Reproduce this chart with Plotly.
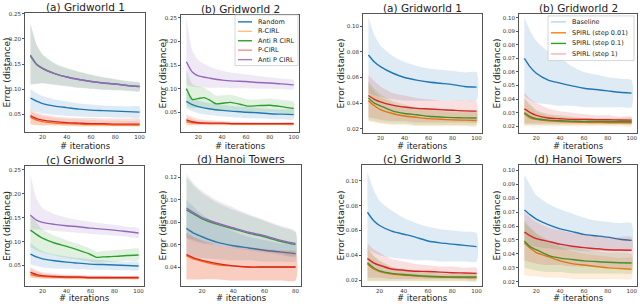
import plotly.graph_objects as go

# ---------------- categories / ticks ----------------
LEFT_SERIES = ["Random", "R-CIRL", "Anti R CIRL", "P-CIRL", "Anti P CIRL"]
RIGHT_SERIES = ["Baseline", "SPIRL (step 0.01)", "SPIRL (step 0.1)", "SPIRL (step 1)"]
TITLES = ["(a) Gridworld 1", "(b) Gridworld 2", "(c) Gridworld 3", "(d) Hanoi Towers"]
X_TICKS_100 = [20, 40, 60, 80, 100]
X_TICKS_80 = [20, 40, 60, 80]
Y_TICKS_GW = [0.05, 0.10, 0.15, 0.20, 0.25]
Y_TICKS_HANOI_L = [0.04, 0.06, 0.08, 0.10, 0.12]
Y_TICKS_R_2 = [0.02, 0.04, 0.06, 0.08, 0.10]
Y_TICKS_R_1 = [0.02, 0.03, 0.04, 0.05, 0.06, 0.07, 0.08, 0.09, 0.10]

# ---------------- iterations ----------------
ITERS = [10, 15, 20, 30, 40, 50, 60, 70, 80, 90, 100]
ITERS_H = [10, 15, 20, 30, 40, 50, 60, 70, 80]
ITERS_B_ANTIR = [10, 15, 20, 25, 30, 35, 40, 47, 55, 62, 70, 80, 90, 100]
ITERS_C_ANTIR = [10, 15, 20, 30, 40, 50, 60, 65, 70, 80, 90, 100]

# ---------------- left group: (a) Gridworld 1 ----------------
LA_RANDOM = [0.082, 0.076, 0.071, 0.066, 0.063, 0.060, 0.058, 0.057, 0.056, 0.055, 0.054]
LA_RANDOM_LO = [0.058, 0.054, 0.051, 0.048, 0.046, 0.045, 0.044, 0.044, 0.043, 0.043, 0.043]
LA_RANDOM_HI = [0.100, 0.092, 0.086, 0.079, 0.075, 0.071, 0.069, 0.067, 0.066, 0.065, 0.065]
LA_RCIRL = [0.044, 0.038, 0.035, 0.032, 0.031, 0.030, 0.029, 0.029, 0.028, 0.028, 0.028]
LA_RCIRL_LO = [0.030, 0.028, 0.027, 0.026, 0.026, 0.025, 0.025, 0.025, 0.025, 0.025, 0.025]
LA_RCIRL_HI = [0.056, 0.050, 0.046, 0.042, 0.040, 0.039, 0.038, 0.037, 0.037, 0.036, 0.036]
LA_ANTIR = [0.166, 0.149, 0.141, 0.131, 0.124, 0.119, 0.115, 0.112, 0.110, 0.107, 0.105]
LA_ANTIR_LO = [0.108, 0.110, 0.111, 0.108, 0.105, 0.102, 0.100, 0.098, 0.097, 0.096, 0.095]
LA_ANTIR_HI = [0.232, 0.190, 0.170, 0.152, 0.142, 0.135, 0.129, 0.124, 0.120, 0.116, 0.113]
LA_PCIRL = [0.047, 0.041, 0.038, 0.035, 0.033, 0.032, 0.031, 0.031, 0.030, 0.030, 0.030]
LA_PCIRL_LO = [0.030, 0.029, 0.028, 0.028, 0.027, 0.027, 0.027, 0.027, 0.027, 0.027, 0.027]
LA_PCIRL_HI = [0.059, 0.053, 0.049, 0.045, 0.043, 0.042, 0.042, 0.041, 0.041, 0.041, 0.041]
LA_ANTIP = [0.168, 0.150, 0.142, 0.131, 0.124, 0.119, 0.115, 0.112, 0.110, 0.107, 0.105]
LA_ANTIP_LO = [0.110, 0.111, 0.112, 0.109, 0.106, 0.103, 0.101, 0.099, 0.098, 0.097, 0.096]
LA_ANTIP_HI = [0.230, 0.188, 0.168, 0.150, 0.141, 0.134, 0.128, 0.123, 0.119, 0.115, 0.112]

# ---------------- left group: (b) Gridworld 2 ----------------
LB_RANDOM = [0.073, 0.066, 0.062, 0.057, 0.054, 0.052, 0.050, 0.049, 0.047, 0.046, 0.045]
LB_RANDOM_LO = [0.058, 0.052, 0.048, 0.044, 0.041, 0.039, 0.038, 0.037, 0.036, 0.035, 0.035]
LB_RANDOM_HI = [0.090, 0.080, 0.075, 0.069, 0.066, 0.063, 0.061, 0.059, 0.057, 0.056, 0.055]
LB_RCIRL = [0.030, 0.028, 0.027, 0.026, 0.026, 0.025, 0.025, 0.025, 0.025, 0.025, 0.025]
LB_RCIRL_LO = [0.022, 0.022, 0.022, 0.022, 0.022, 0.022, 0.022, 0.022, 0.022, 0.022, 0.022]
LB_RCIRL_HI = [0.040, 0.036, 0.033, 0.031, 0.030, 0.029, 0.029, 0.028, 0.028, 0.028, 0.028]
LB_ANTIR = [0.100, 0.077, 0.079, 0.081, 0.075, 0.068, 0.069, 0.071, 0.067, 0.063, 0.064, 0.065, 0.062, 0.058]
LB_ANTIR_LO = [0.062, 0.058, 0.060, 0.060, 0.057, 0.054, 0.054, 0.055, 0.053, 0.050, 0.050, 0.050, 0.048, 0.045]
LB_ANTIR_HI = [0.140, 0.110, 0.105, 0.102, 0.094, 0.085, 0.086, 0.087, 0.082, 0.077, 0.077, 0.079, 0.076, 0.072]
LB_PCIRL = [0.034, 0.030, 0.028, 0.027, 0.027, 0.026, 0.026, 0.026, 0.026, 0.026, 0.026]
LB_PCIRL_LO = [0.024, 0.023, 0.023, 0.023, 0.023, 0.023, 0.023, 0.023, 0.023, 0.023, 0.023]
LB_PCIRL_HI = [0.046, 0.040, 0.036, 0.033, 0.031, 0.030, 0.030, 0.029, 0.029, 0.029, 0.029]
LB_ANTIP = [0.157, 0.135, 0.127, 0.122, 0.118, 0.116, 0.115, 0.113, 0.112, 0.110, 0.108]
LB_ANTIP_LO = [0.108, 0.104, 0.103, 0.102, 0.102, 0.101, 0.101, 0.100, 0.100, 0.099, 0.099]
LB_ANTIP_HI = [0.250, 0.180, 0.160, 0.146, 0.138, 0.133, 0.130, 0.127, 0.124, 0.121, 0.118]

# ---------------- left group: (c) Gridworld 3 ----------------
LC_RANDOM = [0.074, 0.068, 0.064, 0.060, 0.057, 0.055, 0.053, 0.052, 0.051, 0.050, 0.049]
LC_RANDOM_LO = [0.052, 0.049, 0.046, 0.044, 0.043, 0.042, 0.041, 0.041, 0.040, 0.040, 0.040]
LC_RANDOM_HI = [0.098, 0.087, 0.080, 0.073, 0.069, 0.066, 0.063, 0.061, 0.059, 0.058, 0.057]
LC_RCIRL = [0.031, 0.028, 0.027, 0.026, 0.025, 0.025, 0.024, 0.024, 0.024, 0.024, 0.024]
LC_RCIRL_LO = [0.024, 0.023, 0.022, 0.022, 0.021, 0.021, 0.021, 0.021, 0.021, 0.021, 0.021]
LC_RCIRL_HI = [0.045, 0.038, 0.034, 0.031, 0.030, 0.029, 0.028, 0.028, 0.027, 0.027, 0.027]
LC_ANTIR = [0.124, 0.115, 0.107, 0.097, 0.090, 0.082, 0.073, 0.067, 0.068, 0.069, 0.071, 0.072]
LC_ANTIR_LO = [0.088, 0.082, 0.077, 0.071, 0.066, 0.062, 0.058, 0.056, 0.057, 0.058, 0.060, 0.061]
LC_ANTIR_HI = [0.158, 0.140, 0.125, 0.112, 0.103, 0.095, 0.085, 0.079, 0.080, 0.082, 0.084, 0.085]
LC_PCIRL = [0.036, 0.031, 0.029, 0.027, 0.026, 0.026, 0.025, 0.025, 0.025, 0.025, 0.025]
LC_PCIRL_LO = [0.025, 0.024, 0.023, 0.022, 0.022, 0.022, 0.022, 0.022, 0.022, 0.022, 0.022]
LC_PCIRL_HI = [0.047, 0.040, 0.036, 0.033, 0.031, 0.030, 0.029, 0.029, 0.028, 0.028, 0.028]
LC_ANTIP = [0.155, 0.145, 0.140, 0.136, 0.133, 0.131, 0.128, 0.126, 0.124, 0.121, 0.118]
LC_ANTIP_LO = [0.125, 0.125, 0.124, 0.122, 0.120, 0.118, 0.116, 0.114, 0.112, 0.110, 0.108]
LC_ANTIP_HI = [0.240, 0.190, 0.170, 0.157, 0.150, 0.145, 0.141, 0.138, 0.135, 0.131, 0.128]

# ---------------- left group: (d) Hanoi Towers ----------------
LD_RANDOM = [0.0745, 0.070, 0.067, 0.062, 0.059, 0.057, 0.055, 0.0535, 0.052]
LD_RANDOM_LO = [0.050, 0.049, 0.048, 0.047, 0.046, 0.046, 0.045, 0.045, 0.045]
LD_RANDOM_HI = [0.100, 0.093, 0.087, 0.078, 0.072, 0.067, 0.064, 0.061, 0.059]
LD_RCIRL = [0.050, 0.047, 0.045, 0.042, 0.041, 0.040, 0.040, 0.040, 0.040]
LD_RCIRL_LO = [0.029, 0.029, 0.029, 0.029, 0.028, 0.028, 0.028, 0.028, 0.028]
LD_RCIRL_HI = [0.070, 0.066, 0.063, 0.059, 0.057, 0.056, 0.055, 0.054, 0.053]
LD_ANTIR = [0.091, 0.087, 0.083, 0.078, 0.074, 0.070, 0.067, 0.063, 0.060]
LD_ANTIR_LO = [0.066, 0.064, 0.062, 0.060, 0.058, 0.056, 0.054, 0.052, 0.050]
LD_ANTIR_HI = [0.120, 0.112, 0.106, 0.097, 0.091, 0.086, 0.081, 0.076, 0.071]
LD_PCIRL = [0.051, 0.048, 0.046, 0.043, 0.041, 0.040, 0.040, 0.040, 0.040]
LD_PCIRL_LO = [0.029, 0.029, 0.029, 0.029, 0.028, 0.028, 0.028, 0.028, 0.028]
LD_PCIRL_HI = [0.071, 0.067, 0.064, 0.060, 0.058, 0.057, 0.056, 0.055, 0.054]
LD_ANTIP = [0.0925, 0.088, 0.084, 0.079, 0.075, 0.071, 0.068, 0.064, 0.061]
LD_ANTIP_LO = [0.065, 0.063, 0.061, 0.059, 0.057, 0.055, 0.053, 0.051, 0.049]
LD_ANTIP_HI = [0.123, 0.114, 0.108, 0.099, 0.093, 0.087, 0.082, 0.077, 0.072]

# ---------------- right group: (a) Gridworld 1 ----------------
RA_BASE = [0.0775, 0.072, 0.0685, 0.0635, 0.060, 0.058, 0.0565, 0.0555, 0.0545, 0.053, 0.0525]
RA_BASE_LO = [0.048, 0.046, 0.045, 0.043, 0.042, 0.042, 0.042, 0.042, 0.042, 0.042, 0.042]
RA_BASE_HI = [0.107, 0.093, 0.085, 0.077, 0.072, 0.069, 0.067, 0.066, 0.065, 0.064, 0.064]
RA_S001 = [0.042, 0.038, 0.035, 0.032, 0.030, 0.029, 0.028, 0.0275, 0.027, 0.0268, 0.0265]
RA_S001_LO = [0.026, 0.025, 0.024, 0.023, 0.023, 0.022, 0.022, 0.022, 0.022, 0.022, 0.022]
RA_S001_HI = [0.055, 0.049, 0.045, 0.040, 0.037, 0.036, 0.035, 0.034, 0.033, 0.033, 0.033]
RA_S01 = [0.044, 0.040, 0.038, 0.034, 0.032, 0.031, 0.0298, 0.0292, 0.0288, 0.0286, 0.0285]
RA_S01_LO = [0.027, 0.026, 0.025, 0.024, 0.024, 0.023, 0.023, 0.023, 0.023, 0.023, 0.023]
RA_S01_HI = [0.057, 0.051, 0.047, 0.042, 0.039, 0.037, 0.036, 0.035, 0.035, 0.034, 0.034]
RA_S1 = [0.046, 0.043, 0.041, 0.0385, 0.037, 0.036, 0.0355, 0.035, 0.0345, 0.034, 0.0338]
RA_S1_LO = [0.029, 0.028, 0.027, 0.026, 0.026, 0.025, 0.025, 0.025, 0.025, 0.025, 0.025]
RA_S1_HI = [0.062, 0.057, 0.053, 0.048, 0.046, 0.044, 0.043, 0.042, 0.042, 0.042, 0.041]

# ---------------- right group: (b) Gridworld 2 ----------------
RB_BASE = [0.070, 0.0635, 0.059, 0.054, 0.0517, 0.0497, 0.048, 0.047, 0.046, 0.045, 0.0444]
RB_BASE_LO = [0.042, 0.039, 0.037, 0.036, 0.035, 0.035, 0.034, 0.034, 0.034, 0.034, 0.034]
RB_BASE_HI = [0.100, 0.090, 0.083, 0.075, 0.070, 0.064, 0.060, 0.058, 0.056, 0.055, 0.054]
RB_S001 = [0.029, 0.026, 0.025, 0.024, 0.0235, 0.023, 0.0228, 0.0227, 0.0226, 0.0225, 0.0225]
RB_S001_LO = [0.020, 0.020, 0.020, 0.020, 0.020, 0.020, 0.020, 0.020, 0.020, 0.020, 0.020]
RB_S001_HI = [0.040, 0.035, 0.031, 0.028, 0.027, 0.026, 0.026, 0.025, 0.025, 0.025, 0.025]
RB_S01 = [0.030, 0.027, 0.0255, 0.0245, 0.024, 0.0237, 0.0235, 0.0234, 0.0233, 0.0233, 0.0233]
RB_S01_LO = [0.021, 0.021, 0.021, 0.021, 0.021, 0.021, 0.021, 0.021, 0.021, 0.021, 0.021]
RB_S01_HI = [0.041, 0.036, 0.032, 0.029, 0.028, 0.027, 0.026, 0.026, 0.026, 0.026, 0.026]
RB_S1 = [0.0327, 0.030, 0.028, 0.026, 0.0255, 0.025, 0.025, 0.0248, 0.0247, 0.0246, 0.0245]
RB_S1_LO = [0.022, 0.022, 0.022, 0.022, 0.022, 0.022, 0.022, 0.022, 0.022, 0.022, 0.022]
RB_S1_HI = [0.045, 0.040, 0.037, 0.033, 0.031, 0.030, 0.029, 0.028, 0.028, 0.027, 0.027]

# ---------------- right group: (c) Gridworld 3 ----------------
RC_BASE = [0.0747, 0.068, 0.064, 0.0595, 0.057, 0.0545, 0.0515, 0.050, 0.049, 0.048, 0.047]
RC_BASE_LO = [0.045, 0.042, 0.040, 0.038, 0.037, 0.036, 0.036, 0.035, 0.035, 0.035, 0.035]
RC_BASE_HI = [0.107, 0.093, 0.084, 0.076, 0.070, 0.066, 0.063, 0.061, 0.060, 0.059, 0.058]
RC_S001 = [0.033, 0.029, 0.027, 0.025, 0.024, 0.0233, 0.0228, 0.0225, 0.0222, 0.022, 0.022]
RC_S001_LO = [0.019, 0.019, 0.019, 0.019, 0.019, 0.019, 0.019, 0.019, 0.019, 0.019, 0.019]
RC_S001_HI = [0.045, 0.039, 0.035, 0.030, 0.028, 0.027, 0.026, 0.025, 0.025, 0.025, 0.025]
RC_S01 = [0.034, 0.030, 0.0275, 0.0255, 0.0245, 0.0238, 0.0232, 0.0228, 0.0225, 0.0225, 0.0225]
RC_S01_LO = [0.0195, 0.0195, 0.0195, 0.0195, 0.0195, 0.0195, 0.0195, 0.0195, 0.0195, 0.0195, 0.0195]
RC_S01_HI = [0.046, 0.040, 0.036, 0.031, 0.029, 0.028, 0.027, 0.026, 0.026, 0.026, 0.026]
RC_S1 = [0.0373, 0.034, 0.032, 0.029, 0.028, 0.0272, 0.027, 0.0265, 0.026, 0.0258, 0.0255]
RC_S1_LO = [0.022, 0.022, 0.022, 0.021, 0.021, 0.021, 0.021, 0.021, 0.021, 0.021, 0.021]
RC_S1_HI = [0.050, 0.045, 0.042, 0.037, 0.035, 0.033, 0.032, 0.031, 0.031, 0.030, 0.030]

# ---------------- right group: (d) Hanoi Towers ----------------
RD_BASE = [0.0715, 0.068, 0.065, 0.061, 0.058, 0.056, 0.054, 0.053, 0.052, 0.0505, 0.0497]
RD_BASE_LO = [0.047, 0.046, 0.045, 0.044, 0.043, 0.043, 0.042, 0.042, 0.042, 0.042, 0.042]
RD_BASE_HI = [0.097, 0.089, 0.082, 0.076, 0.072, 0.069, 0.066, 0.064, 0.063, 0.062, 0.062]
RD_S001 = [0.048, 0.044, 0.041, 0.038, 0.035, 0.033, 0.032, 0.031, 0.030, 0.0295, 0.029]
RD_S001_LO = [0.025, 0.024, 0.024, 0.023, 0.023, 0.022, 0.022, 0.022, 0.022, 0.022, 0.022]
RD_S001_HI = [0.062, 0.058, 0.054, 0.048, 0.045, 0.042, 0.040, 0.039, 0.038, 0.037, 0.037]
RD_S01 = [0.049, 0.045, 0.043, 0.039, 0.037, 0.036, 0.035, 0.0345, 0.034, 0.0337, 0.0335]
RD_S01_LO = [0.030, 0.029, 0.028, 0.027, 0.027, 0.026, 0.026, 0.026, 0.026, 0.026, 0.026]
RD_S01_HI = [0.064, 0.059, 0.055, 0.050, 0.047, 0.045, 0.043, 0.042, 0.041, 0.041, 0.040]
RD_S1 = [0.0556, 0.053, 0.051, 0.049, 0.047, 0.0455, 0.0445, 0.0437, 0.043, 0.0428, 0.0426]
RD_S1_LO = [0.035, 0.034, 0.033, 0.032, 0.032, 0.031, 0.031, 0.031, 0.030, 0.030, 0.030]
RD_S1_HI = [0.070, 0.066, 0.063, 0.059, 0.057, 0.055, 0.054, 0.053, 0.052, 0.052, 0.052]

# ---------------- styling ----------------
BLUE, ORANGE, GREEN, RED, PURPLE = "#1f77b4", "#ff7f0e", "#2ca02c", "#d62728", "#9467bd"
LEFT_COLORS = [BLUE, ORANGE, GREEN, RED, PURPLE]
RIGHT_COLORS = [BLUE, ORANGE, GREEN, RED]
W, H = 640, 304
FONT = "DejaVu Sans"


def rgba(hexc, a):
    h = hexc.lstrip("#")
    return "rgba(%d,%d,%d,%.3f)" % (int(h[0:2], 16), int(h[2:4], 16), int(h[4:6], 16), a)


def px_x(p):
    return p / W


def px_y(p):
    return 1 - p / H


# panel frames (pixels): x0, x1, y0(top), y1(bottom); xlab_y = centre of the x-axis label
PANELS = [
    dict(box=(25, 145, 11, 131), xr=[5.5, 104.5], yr=[0.014, 0.252], xt=X_TICKS_100, yt=Y_TICKS_GW, title=TITLES[0],
         series=[(ITERS, LA_RANDOM, LA_RANDOM_LO, LA_RANDOM_HI), (ITERS, LA_RCIRL, LA_RCIRL_LO, LA_RCIRL_HI),
                 (ITERS, LA_ANTIR, LA_ANTIR_LO, LA_ANTIR_HI), (ITERS, LA_PCIRL, LA_PCIRL_LO, LA_PCIRL_HI),
                 (ITERS, LA_ANTIP, LA_ANTIP_LO, LA_ANTIP_HI)], colors=LEFT_COLORS, ylab_x=7, xlab_y=145),
    dict(box=(181, 299, 13, 131), xr=[5.5, 104.5], yr=[0.008, 0.256], xt=X_TICKS_100, yt=Y_TICKS_GW, title=TITLES[1],
         series=[(ITERS, LB_RANDOM, LB_RANDOM_LO, LB_RANDOM_HI), (ITERS, LB_RCIRL, LB_RCIRL_LO, LB_RCIRL_HI),
                 (ITERS_B_ANTIR, LB_ANTIR, LB_ANTIR_LO, LB_ANTIR_HI), (ITERS, LB_PCIRL, LB_PCIRL_LO, LB_PCIRL_HI),
                 (ITERS, LB_ANTIP, LB_ANTIP_LO, LB_ANTIP_HI)], colors=LEFT_COLORS, ylab_x=163, xlab_y=145),
    dict(box=(25, 144, 165, 286), xr=[5.5, 104.5], yr=[0.007, 0.258], xt=X_TICKS_100, yt=Y_TICKS_GW, title=TITLES[2],
         series=[(ITERS, LC_RANDOM, LC_RANDOM_LO, LC_RANDOM_HI), (ITERS, LC_RCIRL, LC_RCIRL_LO, LC_RCIRL_HI),
                 (ITERS_C_ANTIR, LC_ANTIR, LC_ANTIR_LO, LC_ANTIR_HI), (ITERS, LC_PCIRL, LC_PCIRL_LO, LC_PCIRL_HI),
                 (ITERS, LC_ANTIP, LC_ANTIP_LO, LC_ANTIP_HI)], colors=LEFT_COLORS, ylab_x=7, xlab_y=298),
    dict(box=(181, 301, 164, 286), xr=[6.5, 83.5], yr=[0.023, 0.131], xt=X_TICKS_80, yt=Y_TICKS_HANOI_L, title=TITLES[3],
         series=[(ITERS_H, LD_RANDOM, LD_RANDOM_LO, LD_RANDOM_HI), (ITERS_H, LD_RCIRL, LD_RCIRL_LO, LD_RCIRL_HI),
                 (ITERS_H, LD_ANTIR, LD_ANTIR_LO, LD_ANTIR_HI), (ITERS_H, LD_PCIRL, LD_PCIRL_LO, LD_PCIRL_HI),
                 (ITERS_H, LD_ANTIP, LD_ANTIP_LO, LD_ANTIP_HI)], colors=LEFT_COLORS, ylab_x=163, xlab_y=298),
    dict(box=(363, 482, 12, 132), xr=[5.5, 104.5], yr=[0.0167, 0.1095], xt=X_TICKS_100, yt=Y_TICKS_R_2, title=TITLES[0],
         series=[(ITERS, RA_BASE, RA_BASE_LO, RA_BASE_HI), (ITERS, RA_S001, RA_S001_LO, RA_S001_HI),
                 (ITERS, RA_S01, RA_S01_LO, RA_S01_HI), (ITERS, RA_S1, RA_S1_LO, RA_S1_HI)],
         colors=RIGHT_COLORS, ylab_x=341, xlab_y=145),
    dict(box=(519, 637, 12, 132), xr=[5.5, 104.5], yr=[0.0149, 0.1027], xt=X_TICKS_100, yt=Y_TICKS_R_1, title=TITLES[1],
         series=[(ITERS, RB_BASE, RB_BASE_LO, RB_BASE_HI), (ITERS, RB_S001, RB_S001_LO, RB_S001_HI),
                 (ITERS, RB_S01, RB_S01_LO, RB_S01_HI), (ITERS, RB_S1, RB_S1_LO, RB_S1_HI)],
         colors=RIGHT_COLORS, ylab_x=497, xlab_y=145),
    dict(box=(362, 482, 164, 286), xr=[5.5, 104.5], yr=[0.0152, 0.1128], xt=X_TICKS_100, yt=Y_TICKS_R_2, title=TITLES[2],
         series=[(ITERS, RC_BASE, RC_BASE_LO, RC_BASE_HI), (ITERS, RC_S001, RC_S001_LO, RC_S001_HI),
                 (ITERS, RC_S01, RC_S01_LO, RC_S01_HI), (ITERS, RC_S1, RC_S1_LO, RC_S1_HI)],
         colors=RIGHT_COLORS, ylab_x=341, xlab_y=298),
    dict(box=(519, 637, 164, 286), xr=[5.5, 104.5], yr=[0.0169, 0.1038], xt=X_TICKS_100, yt=Y_TICKS_R_1, title=TITLES[3],
         series=[(ITERS, RD_BASE, RD_BASE_LO, RD_BASE_HI), (ITERS, RD_S001, RD_S001_LO, RD_S001_HI),
                 (ITERS, RD_S01, RD_S01_LO, RD_S01_HI), (ITERS, RD_S1, RD_S1_LO, RD_S1_HI)],
         colors=RIGHT_COLORS, ylab_x=497, xlab_y=298),
]

fig = go.Figure()
layout = dict(width=W, height=H, margin=dict(l=0, r=0, t=0, b=0), paper_bgcolor="white",
              plot_bgcolor="white", showlegend=False, font=dict(family=FONT, color="#222"))
annotations = []
shapes = []

for i, p in enumerate(PANELS):
    n = "" if i == 0 else str(i + 1)
    xa, ya = "x" + n, "y" + n
    x0, x1, yt0, yb = p["box"]
    base = dict(showgrid=False, zeroline=False, showline=True, mirror=True, linecolor="#555", linewidth=1,
                tickfont=dict(size=5.5, color="#333", family=FONT))
    layout["xaxis" + n] = dict(domain=[px_x(x0), px_x(x1)], anchor=ya, range=p["xr"], tickvals=p["xt"],
                               ticks="", ticklabelstandoff=-1, **base)
    layout["yaxis" + n] = dict(domain=[px_y(yb), px_y(yt0)], anchor=xa, range=p["yr"], tickvals=p["yt"],
                               tickformat=".2f", ticks="outside", ticklen=2, tickwidth=0.8, tickcolor="#555", **base)
    for (xs, m, lo, hi), c in zip(p["series"], p["colors"]):
        fig.add_trace(go.Scatter(x=list(xs) + list(xs)[::-1], y=list(hi) + list(lo)[::-1], xaxis=xa, yaxis=ya,
                                 fill="toself", fillcolor=rgba(c, 0.15), mode="lines",
                                 line=dict(width=0, shape="spline", smoothing=0.6), hoverinfo="skip"))
        fig.add_trace(go.Scatter(x=xs, y=m, xaxis=xa, yaxis=ya, mode="lines",
                                 line=dict(color=c, width=1.4, shape="spline", smoothing=0.6)))
    cx = px_x((x0 + x1) / 2)
    annotations.append(dict(text=p["title"], x=cx, y=px_y(yt0 - 6), xref="paper", yref="paper",
                            showarrow=False, font=dict(size=10.5, color="#222"), xanchor="center", yanchor="middle"))
    annotations.append(dict(text="# iterations", x=cx, y=px_y(p["xlab_y"]), xref="paper", yref="paper",
                            showarrow=False, font=dict(size=8.5, color="#222"), xanchor="center", yanchor="middle"))
    annotations.append(dict(text="Error (distance)", x=px_x(p["ylab_x"]), y=px_y((yt0 + yb) / 2), xref="paper",
                            yref="paper", showarrow=False, textangle=-90, font=dict(size=9, color="#222"),
                            xanchor="center", yanchor="middle"))


def add_legend(box, line_x, text_x, ys, labels, colors):
    bx0, bx1, by0, by1 = box
    shapes.append(dict(type="rect", xref="paper", yref="paper", x0=px_x(bx0), x1=px_x(bx1), y0=px_y(by1),
                       y1=px_y(by0), line=dict(color="#cccccc", width=0.8), fillcolor="rgba(255,255,255,0.85)",
                       layer="above"))
    for yy, lab, col in zip(ys, labels, colors):
        shapes.append(dict(type="line", xref="paper", yref="paper", x0=px_x(line_x[0]), x1=px_x(line_x[1]),
                           y0=px_y(yy), y1=px_y(yy), line=dict(color=col, width=1.4), layer="above"))
        annotations.append(dict(text=lab, x=px_x(text_x), y=px_y(yy), xref="paper", yref="paper", showarrow=False,
                                font=dict(size=6.5, color="#222"), xanchor="left", yanchor="middle"))


add_legend((235, 298, 13, 64), (238, 252), 256, [20, 29.5, 39, 48.5, 58], LEFT_SERIES,
           [BLUE, rgba(ORANGE, 0.5), GREEN, rgba(RED, 0.5), rgba(PURPLE, 0.85)])
add_legend((548, 634, 14, 59), (551, 566), 570, [20, 31, 41.7, 52.3], RIGHT_SERIES,
           [rgba(BLUE, 0.3), ORANGE, GREEN, rgba(RED, 0.35)])

layout["annotations"] = annotations
layout["shapes"] = shapes
fig.update_layout(**layout)
fig.write_html("out.html", config={"displayModeBar": False},
               post_script="document.body.style.margin='0';document.body.style.padding='0';")
